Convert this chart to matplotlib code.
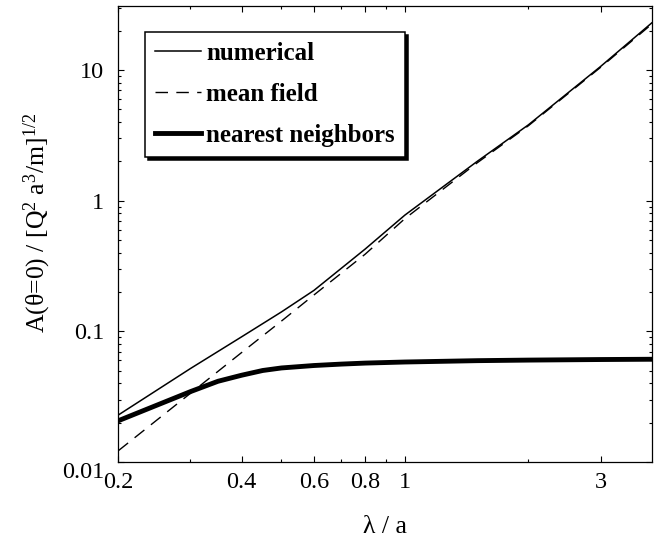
import numpy as np
import matplotlib.pyplot as plt
from matplotlib.ticker import FixedLocator, FixedFormatter, NullFormatter, LogLocator

plt.rcParams['font.family'] = ['Liberation Serif', 'DejaVu Serif']
plt.rcParams['mathtext.fontset'] = 'custom'
plt.rcParams['mathtext.rm'] = 'Liberation Serif'
plt.rcParams['mathtext.it'] = 'Liberation Serif:italic'

# valeurs (lambda / a)
lam_num = [0.2, 0.3, 0.4, 0.5, 0.6, 0.8, 1.0, 1.5, 2.0, 3.0, 4.0]
a_num = [0.0229, 0.052, 0.091, 0.141, 0.206, 0.427, 0.777, 2.0, 3.81, 10.66, 23.0]

lam_mf = [0.2, 0.3, 0.4, 0.5, 0.6, 0.8, 1.0, 1.5, 2.0, 3.0, 4.0]
a_mf = [0.0122, 0.0336, 0.069, 0.120, 0.19, 0.39, 0.73, 1.95, 3.75, 10.5, 22.5]

lam_nn = [0.2, 0.3, 0.35, 0.4, 0.45, 0.5, 0.6, 0.7, 0.8, 1.0, 1.5, 2.0, 3.0, 4.0]
a_nn = [0.0207, 0.0346, 0.0415, 0.0462, 0.0502, 0.0525, 0.0548, 0.0562, 0.0572,
        0.0583, 0.0597, 0.0603, 0.0609, 0.0612]

xticks_major = [0.2, 0.4, 0.6, 0.8, 1, 3]
xtick_labels = ['0.2', '0.4', '0.6', '0.8', '1', '3']
xticks_minor = [0.3, 0.5, 0.7, 0.9, 2]
yticks = [0.01, 0.1, 1, 10]
ytick_labels = ['0.01', '0.1', '1', '10']

fig = plt.figure(figsize=(6.62, 5.44), dpi=100)
ax = fig.add_axes([0.1787, 0.1507, 0.8058, 0.8383])

ax.plot(lam_num, a_num, color='black', lw=1.1, label='numerical')
ax.plot(lam_mf, a_mf, color='black', lw=1.0, dashes=(9, 6), label='mean field')
ax.plot(lam_nn, a_nn, color='black', lw=3.5, label='nearest neighbors')

ax.set_xscale('log')
ax.set_yscale('log')
ax.set_xlim(0.2, 4.0)
ax.set_ylim(0.01, 31)

ax.xaxis.set_major_locator(FixedLocator(xticks_major))
ax.xaxis.set_major_formatter(FixedFormatter(xtick_labels))
ax.xaxis.set_minor_locator(FixedLocator(xticks_minor))
ax.xaxis.set_minor_formatter(NullFormatter())
ax.yaxis.set_major_locator(FixedLocator(yticks))
ax.yaxis.set_major_formatter(FixedFormatter(ytick_labels))
ax.yaxis.set_minor_locator(LogLocator(base=10, subs=np.arange(2, 10)))
ax.yaxis.set_minor_formatter(NullFormatter())

ax.tick_params(which='both', direction='in', top=True, right=True, labelsize=17.5, width=0.8)
ax.tick_params(which='major', length=4)
ax.tick_params(which='minor', length=2.5)
ax.tick_params(axis='x', pad=7)
ax.tick_params(axis='y', pad=10)
for s in ax.spines.values():
    s.set_linewidth(0.9)

ax.set_xlabel('λ / a', fontsize=18.5)
ax.set_ylabel(r'A(θ=0) / [Q$^2$ a$^3$/m]$^{1/2}$', fontsize=18.5)
ax.xaxis.set_label_coords(0.5, -0.118)
ax.yaxis.set_label_coords(-0.122, 0.524)

leg = ax.legend(loc='upper left', bbox_to_anchor=(0.05, 0.943),
                prop={'weight': 'bold', 'size': 18}, frameon=True, fancybox=False,
                shadow={'color': 'black', 'alpha': 1}, borderaxespad=0,
                borderpad=0.4, labelspacing=0.72, handlelength=1.85, handletextpad=0.2)
leg.get_frame().set_edgecolor('black')
leg.get_frame().set_linewidth(1.1)

fig.canvas.draw()
ax.get_yticklabels()[0].set_verticalalignment('top')

fig.savefig('out.png', dpi=100)
